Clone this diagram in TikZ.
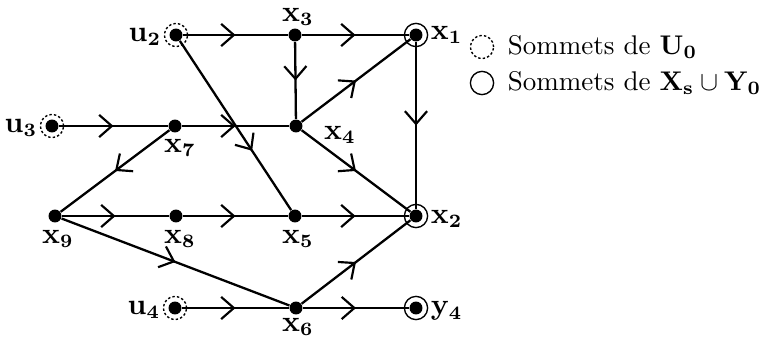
\documentclass[tikz,border=0pt]{standalone}
\usetikzlibrary{arrows.meta,decorations.markings}
\begin{document}
\begin{tikzpicture}[x=0.37pt,y=-0.37pt,
  v/.style={circle,fill,inner sep=0,minimum size=4.8pt},
  ring/.style={circle,draw,line width=0.5pt,inner sep=0,minimum size=8.6pt},
  dring/.style={ring,dash pattern=on 0.9pt off 0.8pt},
  e/.style={line width=0.85pt,postaction={decorate},
    decoration={markings,mark=at position #1 with {\arrow{Straight Barb[length=4.7pt,width=8.2pt,line width=0.8pt]}}}},
  e/.default=0.5,
  lab/.style={inner sep=0.5pt,font=\fontsize{10.5}{12}\selectfont},
  leg/.style={inner sep=0.5pt,anchor=west}]
\useasboundingbox (0,0) rectangle (768,338);
% vertices
\node[v] (u2) at (176,35) {};
\node[v] (x3) at (295,35) {};
\node[v] (x1) at (416,35) {};
\node[v] (u3) at (52,126) {};
\node[v] (x7) at (175,126) {};
\node[v] (x4) at (296,126) {};
\node[v] (x9) at (55,216) {};
\node[v] (x8) at (176,216) {};
\node[v] (x5) at (295,216) {};
\node[v] (x2) at (416,216) {};
\node[v] (u4) at (175,308) {};
\node[v] (x6) at (296,308) {};
\node[v] (y4) at (416,308) {};
% rings
\node[dring] (ru2) at (u2) {};
\node[dring] (ru3) at (u3) {};
\node[dring] (ru4) at (u4) {};
\node[ring] (rx1) at (x1) {};
\node[ring] (rx2) at (x2) {};
\node[ring] (ry4) at (y4) {};
% labels
\node[lab,anchor=east] (lu2) at (163,37) {$\mathbf{u_2}$};
\node[lab,anchor=east] (lu3) at (39,128) {$\mathbf{u_3}$};
\node[lab,anchor=east] (lu4) at (162,310) {$\mathbf{u_4}$};
\node[lab,anchor=west] (lx1) at (429,35) {$\mathbf{x_1}$};
\node[lab,anchor=west] (lx2) at (429,219) {$\mathbf{x_2}$};
\node[lab,anchor=west] (ly4) at (429,311) {$\mathbf{y_4}$};
\node[lab] (lx3) at (298,17) {$\mathbf{x_3}$};
\node[lab] (lx4) at (340,135) {$\mathbf{x_4}$};
\node[lab] (lx7) at (180,148) {$\mathbf{x_7}$};
\node[lab] (lx9) at (58,239) {$\mathbf{x_9}$};
\node[lab] (lx8) at (180,239) {$\mathbf{x_8}$};
\node[lab] (lx5) at (298,239) {$\mathbf{x_5}$};
\node[lab] (lx6) at (298,327) {$\mathbf{x_6}$};
% edges
\draw[e] (u2) -- (x3);
\draw[e] (x3) -- (x1);
\draw[e] (x3) -- (x4);
\draw[e] (u3) -- (x7);
\draw[e] (x7) -- (x4);
\draw[e] (x4) -- (x1);
\draw[e] (x4) -- (x2);
\draw[e] (x1) -- (x2);
\draw[e] (x7) -- (x9);
\draw[e=0.65] (u2) -- (x5);
\draw[e] (x9) -- (x8);
\draw[e] (x8) -- (x5);
\draw[e] (x5) -- (x2);
\draw[e] (x9) -- (x6);
\draw[e] (x6) -- (x2);
\draw[e] (u4) -- (x6);
\draw[e] (x6) -- (y4);
% legend
\node[dring] (ld) at (482,47) {};
\node[ring] (ls) at (482,83) {};
\node[leg] (tl1) at (506,47) {Sommets de $\mathbf{U_0}$};
\node[leg] (tl2) at (506,83) {Sommets de $\mathbf{X_s}\cup\mathbf{Y_0}$};
\end{tikzpicture}
\end{document}
